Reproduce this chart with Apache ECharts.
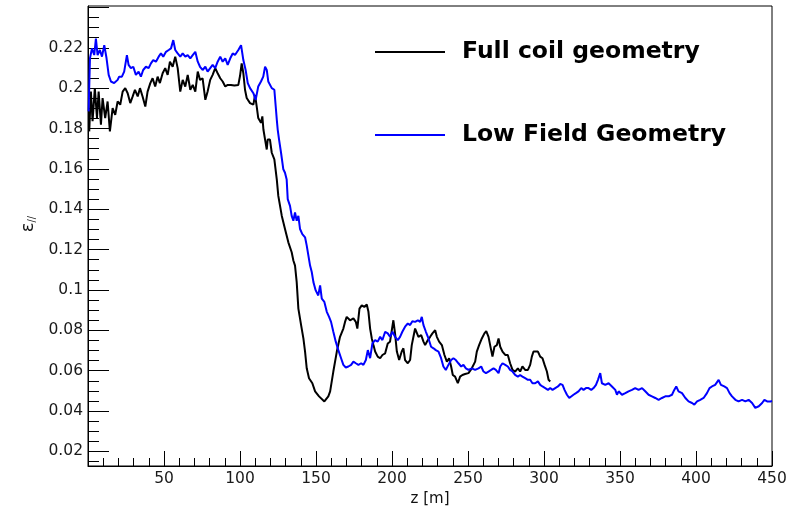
<!DOCTYPE html>
<html>
<head>
<meta charset="utf-8">
<script src="https://cdn.jsdelivr.net/npm/echarts@6/dist/echarts.min.js"></script>
<style>
  html, body { margin: 0; padding: 0; background: #fff; }
  #chart { width: 798px; height: 512px; }
</style>
</head>
<body>
<div id="chart"></div>
<script>
// Longitudinal emittance along the channel for two coil layouts
const seriesNames = ['Full coil geometry', 'Low Field Geometry'];

const fullZ = [0.8,1.9,3.0,4.5,5.9,7.0,8.5,9.6,11.3,12.9,14.4,16.2,17.9,19.5,21.2,22.8,24.5,26.1,27.8,29.4,30.9,32.7,34.2,35.9,37.7,39.2,41.0,42.5,44.2,45.8,47.3,49.1,50.8,52.4,53.9,55.7,57.4,59.0,60.7,62.3,64.0,65.6,67.3,68.9,70.6,72.2,73.7,75.4,77.2,78.7,80.4,82.0,83.7,85.3,87.0,88.6,90.3,91.9,94.0,96.3,98.9,100.0,101.1,102.2,103.3,104.4,106.6,108.8,109.9,111.0,112.0,113.8,114.7,115.4,116.5,117.6,118.2,119.7,120.9,122.6,124.2,125.2,127.5,129.6,131.8,134.0,135.1,136.2,137.3,138.4,140.2,141.7,142.8,143.9,145.4,147.6,149.4,152.0,155.5,158.1,159.3,161.4,163.7,165.8,168.0,169.1,170.2,172.4,174.6,176.2,177.2,178.6,180.1,181.8,183.4,184.5,185.6,186.7,187.8,188.9,190.6,192.2,193.7,195.5,197.2,198.7,200.9,202.0,203.2,204.7,206.4,207.5,208.6,210.4,211.9,213.0,214.1,215.2,216.3,217.4,219.2,220.7,221.8,223.6,225.1,226.6,228.4,229.5,231.0,232.8,234.5,236.1,237.6,238.9,240.0,241.5,243.3,244.8,246.3,248.1,250.3,252.5,254.7,255.8,257.3,259.1,260.8,262.0,263.5,265.0,266.1,267.4,269.0,270.1,271.2,272.7,274.5,276.2,277.7,279.3,281.0,282.8,284.3,285.8,287.6,289.4,290.9,292.0,293.1,294.2,296.0,297.5,299.0,300.4,301.9,303.0,304.1];
const fullEps = [.1786,.1983,.1836,.2000,.1852,.1983,.1819,.1951,.1852,.1934,.1786,.1901,.1868,.1934,.1918,.1983,.2000,.1975,.1926,.1959,.1992,.1959,.2000,.1959,.1909,.1983,.2025,.2049,.2008,.2057,.2025,.2074,.2099,.2066,.2131,.2106,.2156,.2099,.1983,.2041,.2008,.2066,.1992,.2016,.1983,.2082,.2041,.2049,.1942,.1983,.2041,.2066,.2099,.2074,.2049,.2033,.2008,.2016,.2016,.2013,.2016,.2060,.2123,.2074,.1992,.1951,.1926,.1918,.1967,.1909,.1852,.1828,.1860,.1795,.1745,.1696,.1745,.1745,.1680,.1647,.1548,.1466,.1367,.1302,.1236,.1187,.1146,.1121,.1039,.0908,.0826,.0760,.0695,.0612,.0563,.0538,.0498,.0473,.0448,.0473,.0498,.0596,.0695,.0768,.0809,.0842,.0867,.0850,.0859,.0842,.0809,.0908,.0924,.0916,.0928,.0892,.0809,.0760,.0727,.0695,.0670,.0662,.0678,.0686,.0735,.0744,.0850,.0785,.0695,.0653,.0695,.0711,.0653,.0637,.0653,.0727,.0768,.0809,.0818,.0768,.0776,.0744,.0727,.0752,.0768,.0785,.0801,.0768,.0744,.0727,.0678,.0645,.0662,.0621,.0579,.0571,.0538,.0571,.0579,.0584,.0588,.0612,.0645,.0695,.0727,.0760,.0785,.0796,.0768,.0711,.0670,.0719,.0727,.0760,.0719,.0695,.0678,.0678,.0637,.0604,.0596,.0612,.0596,.0621,.0604,.0604,.0629,.0670,.0695,.0703,.0695,.0670,.0662,.0629,.0596,.0555,.0547];

const lowZ = [0.4,1.3,2.6,4.1,5.2,6.3,7.8,9.2,10.7,12.2,13.6,15.1,17.2,19.5,20.5,22.3,23.8,25.6,26.7,28.2,29.8,31.5,33.3,34.8,36.3,38.1,39.9,41.4,42.9,44.7,46.5,48.0,49.5,51.3,53.1,54.6,56.1,57.4,59.0,60.7,62.3,64.0,65.6,67.3,68.9,70.6,72.2,73.7,75.4,77.2,78.7,80.4,82.0,83.7,85.3,87.0,88.6,90.3,91.9,93.6,95.2,96.7,98.9,100.7,102.2,103.7,105.1,106.6,108.8,110.3,112.0,113.8,115.3,116.5,117.6,118.6,120.9,122.6,123.5,124.2,124.8,125.7,127.0,128.5,129.6,130.7,131.4,132.9,134.0,135.1,136.2,137.3,138.4,139.5,141.0,142.8,143.9,145.0,146.1,147.2,148.3,149.8,151.5,152.7,153.8,155.5,157.1,158.6,159.9,161.4,163.0,164.7,166.5,168.0,169.6,171.3,173.1,174.6,176.2,177.9,179.7,181.2,182.8,184.1,185.6,187.1,188.9,190.6,192.2,193.7,195.5,197.2,198.7,200.3,202.0,203.8,205.3,206.8,208.6,210.4,211.9,213.4,215.2,217.0,218.5,219.6,220.7,222.3,224.0,225.7,227.3,228.8,230.6,232.3,233.8,235.4,237.1,238.9,240.4,242.0,243.7,245.5,247.0,248.6,250.3,252.5,254.7,256.9,258.7,260.2,261.8,263.5,265.2,266.8,268.3,270.1,271.2,272.7,274.5,276.2,277.7,279.3,281.0,282.8,284.3,285.8,287.6,289.4,290.9,292.4,294.2,296.0,297.5,299.0,300.8,302.6,304.1,305.6,307.4,309.2,310.7,312.2,313.5,315.1,316.6,317.9,319.4,321.0,322.7,324.5,326.0,327.6,329.3,331.1,332.6,334.2,335.5,337.0,338.1,340.3,342.5,344.7,346.9,348.0,349.1,351.3,353.5,355.6,357.9,360.0,362.2,364.5,366.6,368.8,371.0,373.2,375.4,377.6,379.8,382.0,384.2,385.7,387.0,388.5,390.8,393.0,395.1,397.4,398.9,400.7,402.8,405.0,407.2,408.9,410.5,412.6,414.9,416.4,418.6,420.4,422.1,423.7,425.9,428.0,430.3,432.5,434.6,436.9,439.0,440.2,441.3,443.5,445.0,446.8,449.0,450.0];
const lowEps = [.1885,.2148,.2197,.2164,.2246,.2164,.2189,.2156,.2213,.2148,.2066,.2033,.2025,.2041,.2057,.2057,.2082,.2164,.2115,.2099,.2106,.2066,.2082,.2057,.2090,.2106,.2099,.2123,.2139,.2131,.2156,.2172,.2156,.2180,.2189,.2197,.2238,.2189,.2172,.2156,.2172,.2156,.2164,.2148,.2164,.2180,.2131,.2106,.2090,.2106,.2082,.2099,.2115,.2099,.2131,.2156,.2131,.2148,.2115,.2148,.2172,.2164,.2189,.2213,.2139,.2090,.2025,.2000,.1975,.1942,.2008,.2033,.2057,.2106,.2090,.2033,.2000,.1992,.1909,.1844,.1795,.1745,.1680,.1598,.1581,.1548,.1450,.1417,.1367,.1343,.1384,.1343,.1367,.1302,.1277,.1261,.1220,.1170,.1121,.1089,.1039,.0998,.0973,.1023,.0957,.0941,.0892,.0867,.0842,.0793,.0744,.0702,.0662,.0629,.0616,.0621,.0629,.0645,.0637,.0629,.0637,.0629,.0653,.0702,.0662,.0735,.0752,.0744,.0768,.0752,.0793,.0785,.0768,.0793,.0768,.0752,.0768,.0793,.0818,.0834,.0826,.0845,.0842,.0850,.0842,.0867,.0826,.0793,.0760,.0719,.0711,.0702,.0695,.0662,.0621,.0604,.0629,.0653,.0662,.0653,.0637,.0621,.0629,.0612,.0604,.0612,.0604,.0612,.0621,.0596,.0588,.0596,.0604,.0612,.0604,.0588,.0621,.0637,.0629,.0621,.0604,.0596,.0579,.0571,.0579,.0571,.0563,.0555,.0555,.0538,.0538,.0547,.0530,.0522,.0514,.0505,.0514,.0505,.0514,.0522,.0534,.0530,.0505,.0481,.0465,.0456,.0481,.0489,.0498,.0514,.0505,.0514,.0514,.0505,.0514,.0530,.0555,.0588,.0538,.0530,.0538,.0522,.0505,.0481,.0498,.0481,.0489,.0498,.0505,.0514,.0505,.0514,.0498,.0481,.0473,.0465,.0456,.0465,.0473,.0473,.0481,.0505,.0522,.0498,.0489,.0465,.0448,.0440,.0432,.0448,.0456,.0465,.0489,.0514,.0522,.0530,.0555,.0530,.0522,.0514,.0489,.0473,.0456,.0448,.0456,.0448,.0456,.0440,.0416,.0407,.0424,.0440,.0456,.0448,.0448,.0450];

// Axis ranges and tick labels
const zRange = [0, 450];
const epsRange = [0.0128, 0.2407];
const epsTickLabels = [0.02, 0.04, 0.06, 0.08, 0.1, 0.12, 0.14, 0.16, 0.18, 0.2, 0.22];
const epsMajorTicks = epsTickLabels.concat([0.24]);

// minor ticks every 0.005 between the labelled ones
const epsMinorTicks = [];
for (let k = 3; k <= 48; k++) {
  if (k % 4 !== 0) epsMinorTicks.push(+(k * 0.005).toFixed(3));
}

const pairs = (xs, ys) => xs.map((x, i) => [x, ys[i]]);

const FONT = 'DejaVu Sans';
const chart = echarts.init(document.getElementById('chart'), null, { renderer: 'canvas' });

// plain line-segment key, no marker
const legendBase = {
  orient: 'vertical',
  left: 375,
  padding: 0,
  icon: 'rect',
  itemWidth: 70,
  itemHeight: 2,
  selectedMode: false,
  textStyle: {
    fontFamily: FONT, fontWeight: 'bold', fontSize: 23.5, color: '#000',
    lineHeight: 26, padding: [0, 0, 0, 12]
  }
};

chart.setOption({
  animation: false,
  backgroundColor: '#fff',
  grid: {
    left: 88, right: 26, top: 6, bottom: 44,
    show: true, borderColor: '#000', borderWidth: 1, backgroundColor: 'transparent'
  },
  legend: [
    Object.assign({}, legendBase, { top: 39, data: [seriesNames[0]] }),
    Object.assign({}, legendBase, { top: 122, data: [seriesNames[1]] })
  ],
  xAxis: {
    type: 'value',
    min: zRange[0], max: zRange[1], interval: 50,
    name: 'z [m]',
    nameLocation: 'middle',
    nameGap: 26,
    nameTextStyle: { fontFamily: FONT, fontSize: 15, color: '#111' },
    axisLine: { lineStyle: { color: '#000', width: 1 } },
    axisTick: { inside: true, length: 15, lineStyle: { color: '#000' } },
    minorTick: { show: true, splitNumber: 5, length: 8, lineStyle: { color: '#000' } },
    splitLine: { show: false },
    axisLabel: {
      showMinLabel: false, margin: 5,
      fontFamily: FONT, fontSize: 15.5, color: '#1a1a1a'
    }
  },
  yAxis: [
    {
      type: 'value',
      min: epsRange[0], max: epsRange[1],
      name: '{e|ε}{s|//}',
      nameLocation: 'middle',
      nameGap: 50,
      nameTextStyle: {
        padding: [0, 0, 0, 24],
        rich: {
          e: { fontFamily: FONT, fontSize: 18, color: '#111' },
          s: { fontFamily: FONT, fontSize: 10, color: '#111', verticalAlign: 'bottom', padding: [8, 0, 0, 0] }
        }
      },
      axisLine: { show: true, lineStyle: { color: '#000', width: 1 } },
      axisTick: { inside: true, length: 21, customValues: epsMajorTicks, lineStyle: { color: '#000' } },
      splitLine: { show: false },
      axisLabel: {
        customValues: epsTickLabels, margin: 5,
        fontFamily: FONT, fontSize: 15.5, color: '#1a1a1a',
        formatter: v => String(+v.toFixed(3))
      }
    },
    {
      type: 'value',
      min: epsRange[0], max: epsRange[1],
      position: 'left',
      axisLine: { show: false },
      axisTick: { show: true, inside: true, length: 11, customValues: epsMinorTicks, lineStyle: { color: '#000' } },
      axisLabel: { show: false },
      splitLine: { show: false }
    }
  ],
  series: [
    {
      name: seriesNames[0], type: 'line', yAxisIndex: 0,
      data: pairs(fullZ, fullEps),
      symbol: 'none', showSymbol: false,
      lineStyle: { color: '#000000', width: 2 },
      itemStyle: { color: '#000000' }
    },
    {
      name: seriesNames[1], type: 'line', yAxisIndex: 0,
      data: pairs(lowZ, lowEps),
      symbol: 'none', showSymbol: false,
      lineStyle: { color: '#0000ff', width: 2 },
      itemStyle: { color: '#0000ff' }
    }
  ]
});
</script>
</body>
</html>
